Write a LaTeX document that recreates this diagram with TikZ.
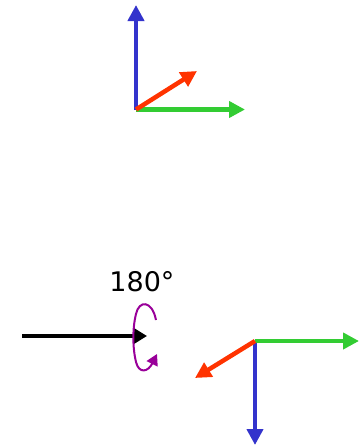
\documentclass[tikz,border=0pt]{standalone}
\usepackage{fontspec}
\setmainfont{DejaVu Sans}
\usetikzlibrary{arrows.meta}
\definecolor{axblue}{HTML}{3333CC}
\definecolor{axgreen}{HTML}{33CC33}
\definecolor{axred}{HTML}{FF3300}
\definecolor{rotpurple}{HTML}{990099}
\tikzset{
  axis/.style={line width=4.5pt, -{Triangle[length=16pt,width=16pt]}},
  rot/.style={line width=2pt, rotpurple, -{Triangle[length=11pt,width=12pt]}}
}
\begin{document}
\begin{tikzpicture}[x=1pt,y=-1pt]
\useasboundingbox (0,0) rectangle (359,445);
% top frame
\coordinate (o1) at (136,109.5);
\coordinate (z1) at (136,5);
\coordinate (y1) at (245,109.5);
\coordinate (x1) at (197,71);
\draw[axis, axblue] (o1) -- (z1);
\draw[axis, axgreen] (o1) -- (y1);
\draw[axis, axred] (o1) -- (x1);
% rotation
\node[font=\fontsize{27}{31}\selectfont, inner sep=0pt] (lbl) at (142,282) {180°};
\coordinate (s) at (22,336);
\coordinate (t) at (147,336);
\draw[line width=4.5pt, -{Triangle[length=13pt,width=15pt]}] (s) -- (t);
\coordinate (r0) at (156,320);
\coordinate (r1) at (157,354);
\draw[rot] (r0) .. controls (152,300) and (139,300) .. (136,314)
  .. controls (132,330) and (133,350) .. (136,362)
  .. controls (139,374) and (148,372) .. (r1);
% bottom frame
\coordinate (o2) at (255,341);
\coordinate (z2) at (255,445);
\coordinate (y2) at (359,341);
\coordinate (x2) at (195,378);
\draw[axis, axblue] (o2) -- (z2);
\draw[axis, axgreen] (o2) -- (y2);
\draw[axis, axred] (o2) -- (x2);
\end{tikzpicture}
\end{document}
